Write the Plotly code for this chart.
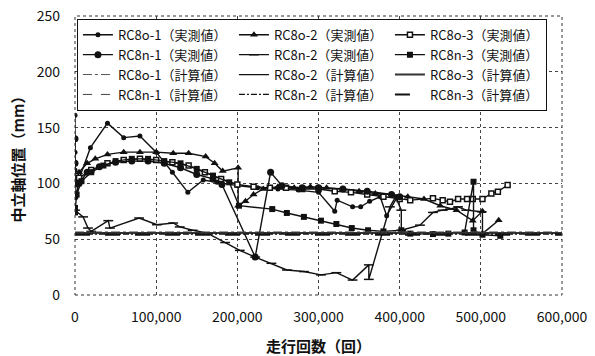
import plotly.graph_objects as go

# --- measured neutral-axis positions (走行回数 vs 中立軸位置) ---
o1_x = [0, 0, 0, 0, 0, 3000, 19000, 40000, 60000, 80000, 100000, 120000, 139000, 158000,
        175000, 200000, 225000, 250000, 275000, 300000, 320000, 323000, 342000, 352000,
        363000, 376000, 384000, 397000]
o1_y = [161, 140, 128, 112, 98, 100, 132, 154, 141, 142.5, 128, 110, 92, 103,
        101, 98, 96, 95, 94, 92, 75, 85, 79, 79, 84, 88, 71, 88]

o2_x = [0, 5000, 15000, 25000, 40000, 60000, 80000, 100000, 121000, 140000, 161000, 172000,
        182000, 201000, 201000, 210000, 220000, 232000, 250000, 270000, 290000, 310000,
        330000, 350000, 370000, 390000, 410000, 430000, 450000, 470000, 490000, 502000,
        502000, 522000]
o2_y = [100, 110, 118, 122, 126, 128, 128, 128, 127, 127, 124, 118,
        111, 114, 80, 84, 90, 95, 97, 96, 97, 96,
        95, 93, 91, 90, 88, 86, 80, 76, 66.6, 75,
        55, 67]

o3_x = [0, 5000, 20000, 40000, 60000, 80000, 100000, 120000, 140000, 160000, 180000, 200000,
        220000, 240000, 260000, 280000, 300000, 320000, 340000, 360000, 380000, 400000,
        413000, 441000, 453000, 462000, 472000, 483000, 490000, 502000, 513000, 521000, 533000]
o3_y = [95, 105, 112, 118, 121, 122, 121, 119, 116, 110, 104, 99,
        97, 96, 96, 95, 95, 93, 92, 90, 88, 86,
        85, 86.6, 85, 83.6, 86, 86, 86, 86, 91, 92.6, 98.6]

n1_x = [0, 0, 0, 5000, 15000, 30000, 50000, 70000, 90000, 110000, 130000, 150000, 170000,
        181000, 222000, 241000, 255000, 280000, 300000, 330000, 360000, 390000, 400000]
n1_y = [140, 118, 88, 100, 110, 115, 119, 120, 120, 118, 114, 108, 104,
        99, 34, 110, 98, 96, 96, 95, 93, 90, 88]

n2_x = [0, 10000, 16000, 20000, 41000, 43000, 79000, 101000, 121000, 129000, 145000, 163000,
        185000, 203000, 222000, 242000, 261000, 282000, 303000, 322000, 342000, 362000,
        362000, 388000, 395000, 402000, 402000, 425000, 441000, 453000, 462000, 472000,
        482000, 501000]
n2_y = [76, 70, 60, 57, 66.6, 60, 69, 63, 64.5, 61, 58, 55.5,
        47, 40, 34, 28.4, 22.4, 21, 18, 20, 13.4, 27,
        14, 79, 88, 76, 58, 62.6, 74, 76, 77, 79,
        76, 74.6]

n3_x = [0, 0, 2000, 8000, 20000, 35000, 50000, 70000, 90000, 110000, 130000, 150000, 170000,
        190000, 202000, 243000, 261000, 282000, 303000, 322000, 341000, 361000, 380000,
        402000, 413000, 441000, 460000, 480000, 491000, 491000, 502000, 524000]
n3_y = [78, 74, 90, 102, 110, 116, 120, 122, 122, 120, 118, 113, 107,
        101, 80, 77, 73.5, 70, 66.6, 63.6, 60, 58, 57,
        58, 55, 54.6, 55, 56, 101.5, 58, 54, 53]

# --- calculated values (constant over the running range) ---
calc_x = [0, 600000]
calc_o1 = [56.5, 56.5]
calc_o2 = [56.0, 56.0]
calc_o3 = [55.5, 55.5]
calc_n1 = [55.0, 55.0]
calc_n2 = [54.5, 54.5]
calc_n3 = [54.0, 54.0]

x_ticks = [0, 100000, 200000, 300000, 400000, 500000, 600000]
y_ticks = [0, 50, 100, 150, 200, 250]

FONT = "Noto Sans CJK JP"
BLACK = "#111111"

fig = go.Figure()

measured = [
    ("RC8o-1（実測値）", o1_x, o1_y, dict(symbol="circle", size=5)),
    ("RC8o-2（実測値）", o2_x, o2_y, dict(symbol="triangle-up", size=7)),
    ("RC8o-3（実測値）", o3_x, o3_y, dict(symbol="square", size=5, color="white",
                                       line=dict(color=BLACK, width=1.5))),
    ("RC8n-1（実測値）", n1_x, n1_y, dict(symbol="circle", size=7)),
    ("RC8n-2（実測値）", n2_x, n2_y, dict(symbol="line-ew", size=7,
                                       line=dict(color=BLACK, width=1.5))),
    ("RC8n-3（実測値）", n3_x, n3_y, dict(symbol="square", size=6)),
]
for name, xs, ys, mk in measured:
    mk = dict(mk)
    mk.setdefault("color", BLACK)
    fig.add_trace(go.Scatter(x=xs, y=ys, mode="lines+markers", name=name,
                             line=dict(color=BLACK, width=1.4), marker=mk))

calculated = [
    ("RC8o-1（計算値）", calc_o1, dict(color="#555555", width=1, dash="dashdot")),
    ("RC8o-2（計算値）", calc_o2, dict(color=BLACK, width=1.2, dash="solid")),
    ("RC8o-3（計算値）", calc_o3, dict(color="#333333", width=2, dash="solid")),
    ("RC8n-1（計算値）", calc_n1, dict(color="#444444", width=1, dash="dash")),
    ("RC8n-2（計算値）", calc_n2, dict(color=BLACK, width=1.2, dash="6px,2px,2px,2px")),
    ("RC8n-3（計算値）", calc_n3, dict(color=BLACK, width=2, dash="longdash")),
]
for name, ys, ln in calculated:
    fig.add_trace(go.Scatter(x=calc_x, y=ys, mode="lines", name=name, line=ln))

title_font = dict(family=FONT, size=15, color=BLACK, weight="bold")

fig.update_layout(
    width=595, height=356,
    margin=dict(l=75, r=33, t=16, b=61, autoexpand=False),
    paper_bgcolor="white", plot_bgcolor="white",
    font=dict(family=FONT, size=13, color=BLACK),
    showlegend=True,
    legend=dict(
        orientation="h", x=0.004, y=0.99, xanchor="left", yanchor="top",
        entrywidth=111, entrywidthmode="pixels",
        bgcolor="white", bordercolor=BLACK, borderwidth=1,
        font=dict(family=FONT, size=13, color=BLACK),
        tracegroupgap=0,
    ),
    xaxis=dict(
        range=[0, 600000], tickvals=x_ticks, tickformat=",", automargin=False,
        showgrid=True, gridcolor="#444444", gridwidth=1, griddash="dot",
        zeroline=False, showline=False, ticks="", ticklabelstandoff=12,
        tickfont=dict(family=FONT, size=14, color=BLACK),
        title=dict(text="走行回数（回）", font=title_font, standoff=16),
    ),
    yaxis=dict(
        range=[0, 250], tickvals=y_ticks, automargin=False,
        showgrid=True, gridcolor="#444444", gridwidth=1, griddash="dot",
        zeroline=False, showline=False, ticks="", ticklabelstandoff=14,
        tickfont=dict(family=FONT, size=14, color=BLACK),
        title=dict(text="中立軸位置（mm）", font=title_font, standoff=8),
    ),
)

# dotted plot frame
fig.add_shape(type="rect", xref="paper", yref="paper", x0=0, y0=0, x1=1, y1=1,
              line=dict(color="#333333", width=1, dash="dot"), layer="above")

fig.write_html("out.html")
